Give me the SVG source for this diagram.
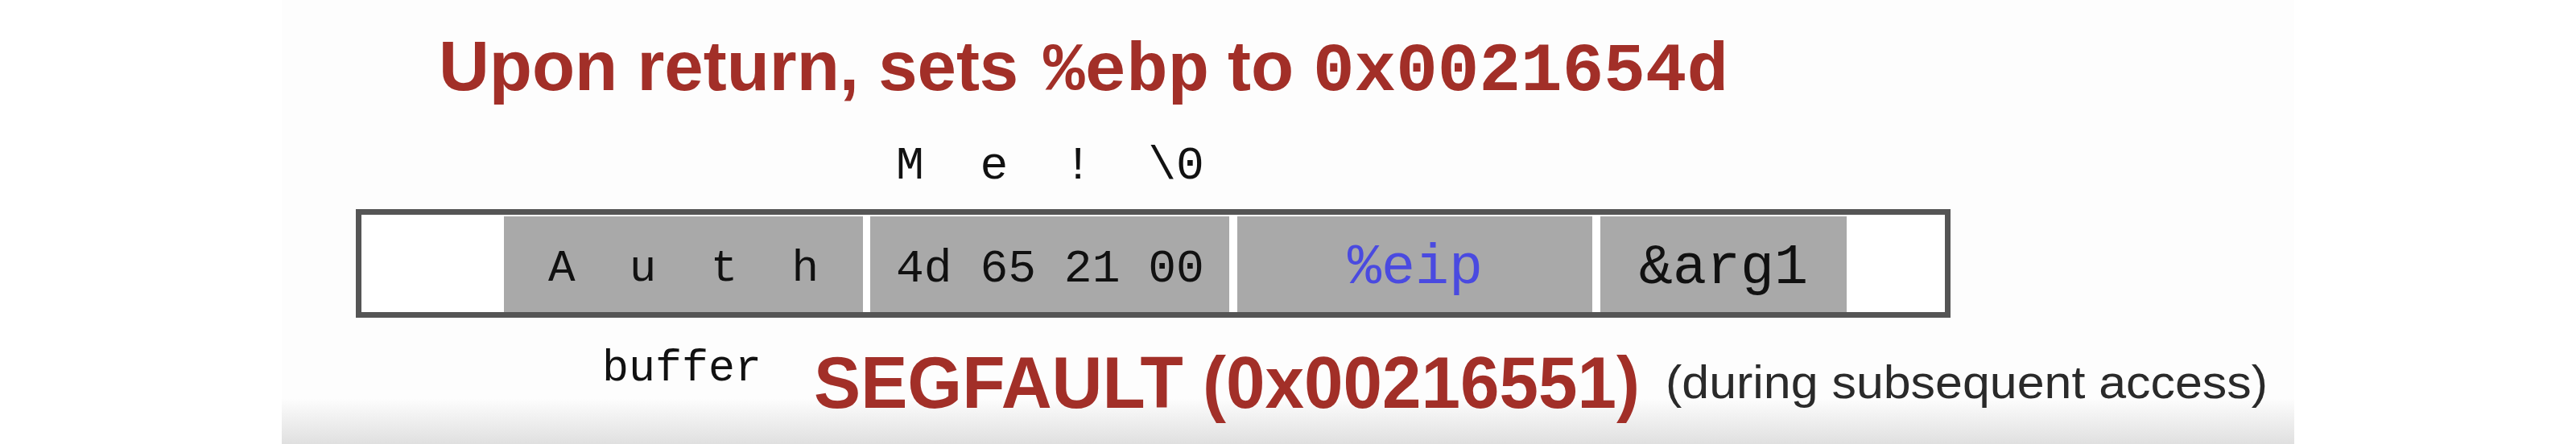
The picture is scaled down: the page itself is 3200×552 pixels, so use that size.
<svg xmlns="http://www.w3.org/2000/svg" width="3200" height="552" viewBox="0 0 3200 552">
  <defs>
    <linearGradient id="floor" x1="0" y1="0" x2="0" y2="1">
      <stop offset="0" stop-color="#fdfdfd"/>
      <stop offset="1" stop-color="#e0e0e0"/>
    </linearGradient>
  </defs>
  <style>
    .title { font-family: "Liberation Sans", Arial, sans-serif; font-weight: bold; font-size: 87px; fill: #a22f28; }
    .titlemono { font-family: "Liberation Mono", "Courier New", monospace; font-weight: bold; font-size: 86px; fill: #a22f28; }
    .mono { font-family: "Liberation Mono", "Courier New", monospace; fill: #111; }
    .cell { fill: #a9a9a9; }
    .frame { fill: #ffffff; stroke: #555555; stroke-width: 7; }
    .seg { font-family: "Liberation Sans", Arial, sans-serif; font-weight: bold; font-size: 90px; fill: #a22f28; }
    .note { font-family: "Liberation Sans", Arial, sans-serif; font-size: 58px; fill: #2a2a2a; }
  </style>

  <rect x="0" y="0" width="3200" height="552" fill="#ffffff"/>
  <rect x="350" y="0" width="2500" height="552" fill="#fdfdfd"/>
  <rect x="350" y="495" width="2500" height="57" fill="url(#floor)"/>

  <g id="title">
    <text class="title" x="545" y="112">Upon return, sets</text>
    <text class="titlemono" x="1296" y="112">%ebp</text>
    <text class="title" x="1525" y="112">to</text>
    <text class="titlemono" x="1631" y="112">0x0021654d</text>
  </g>

  <g id="overflow-label">
    <text class="mono" x="1113" y="222" font-size="58" xml:space="preserve">M  e  !  \0</text>
  </g>

  <g id="stack">
    <rect class="frame" x="445.5" y="263.5" width="1974" height="128"/>
  </g>

  <g id="cell-buffer">
    <rect class="cell" x="626" y="269" width="446" height="119"/>
    <text class="mono" x="681" y="349" font-size="56" xml:space="preserve">A  u  t  h</text>
  </g>

  <g id="cell-ebp">
    <rect class="cell" x="1081" y="269" width="446" height="119"/>
    <text class="mono" x="1113" y="350" font-size="58" xml:space="preserve">4d 65 21 00</text>
  </g>

  <g id="cell-eip">
    <rect class="cell" x="1537" y="269" width="441" height="119"/>
    <text class="mono" x="1758" y="352" font-size="70" text-anchor="middle" fill="#4a4ae0" style="fill:#4a4ae0">%eip</text>
  </g>

  <g id="cell-arg1">
    <rect class="cell" x="1988" y="269" width="306" height="119"/>
    <text class="mono" x="2141" y="352" font-size="70" text-anchor="middle">&amp;arg1</text>
  </g>

  <g id="connectors"/>

  <g id="buffer-label">
    <text class="mono" x="748" y="473" font-size="55">buffer</text>
  </g>

  <g id="segfault">
    <text class="seg" x="1011" y="507" textLength="1026" lengthAdjust="spacingAndGlyphs">SEGFAULT (0x00216551)</text>
    <text class="note" x="2069" y="495" textLength="748" lengthAdjust="spacingAndGlyphs">(during subsequent access)</text>
  </g>
</svg>
